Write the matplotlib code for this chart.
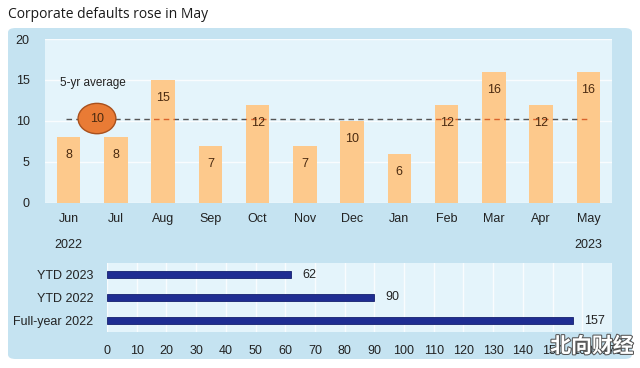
import matplotlib
matplotlib.use("Agg")
import matplotlib.pyplot as plt
from matplotlib.patches import FancyBboxPatch, Ellipse
import matplotlib.patheffects as pe

months = ["Jun", "Jul", "Aug", "Sep", "Oct", "Nov", "Dec", "Jan", "Feb", "Mar", "Apr", "May"]
defaults = [8, 8, 15, 7, 12, 7, 10, 6, 12, 16, 12, 16]
avg_5yr = 10.3
avg_label = "10"
years = {0: "2022", 11: "2023"}

bar_cats = ["YTD 2023", "YTD 2022", "Full-year 2022"]
bar_vals = [62, 90, 157]
bottom_ticks = list(range(0, 180, 10))

plt.rcParams['font.family'] = ['Liberation Sans', 'DejaVu Sans']

W, H = 640, 368
fig = plt.figure(figsize=(W / 100, H / 100), dpi=100)
fig.patch.set_facecolor("white")

def frac(x0, y0, x1, y1):
    return [x0 / W, 1 - y1 / H, (x1 - x0) / W, (y1 - y0) / H]

# Outer panel
panel = FancyBboxPatch((8 / W, 1 - 359 / H), 624 / W, 331 / H,
                       boxstyle="round,pad=0,rounding_size=0.012",
                       transform=fig.transFigure, facecolor="#c5e3f1",
                       edgecolor="none", zorder=-5)
fig.patches.append(panel)

fig.text(8 / W, 1 - 15 / H, "Corporate defaults rose in May", fontsize=10,
         family=["Open Sans", "DejaVu Sans"], color="#1a1a1a", va="center", ha="left")

# Top chart
ax = fig.add_axes(frac(45, 39, 612, 203))
ax.set_facecolor("#e4f4fb")
x = list(range(len(months)))
bars = ax.bar(x, defaults, width=0.5, color="#fdc98c", zorder=2)
ax.set_xlim(-0.5, 11.5)
ax.set_ylim(0, 20)
ax.set_yticks([0, 5, 10, 15, 20])
for s in ax.spines.values():
    s.set_visible(False)
ax.tick_params(axis="both", length=0, labelsize=9, colors="#222222")
ax.tick_params(axis="y", pad=11)
ax.tick_params(axis="x", pad=7)
ax.set_xticks(x)
ax.set_xticklabels(months)
ax.yaxis.grid(True, color="white", linewidth=1.0, alpha=0.8, zorder=0)
ax.set_axisbelow(True)

for i, yr in years.items():
    ax.annotate(yr, xy=(i, 0), xycoords="data", xytext=(0, -30), textcoords="offset points",
                ha="center", va="center", fontsize=9, color="#222222", annotation_clip=False)

for xi, v in zip(x, defaults):
    ax.annotate(str(v), xy=(xi, v), xytext=(0, -13), textcoords="offset points",
                ha="center", va="center", fontsize=9, color="#4a2a10", zorder=5)

dash = (0, (4, 3))
ax.plot([-0.05, 11], [avg_5yr, avg_5yr], color="#555555", linestyle=dash, linewidth=1.0, zorder=1)
for b in bars:
    ln, = ax.plot([-0.05, 11], [avg_5yr, avg_5yr], color="#d9622b", linestyle=dash,
                  linewidth=1.0, zorder=3)
    ln.set_clip_path(b)

ell = Ellipse((0.6, avg_5yr), width=0.8, height=3.7, facecolor="#e97b35",
              edgecolor="#a9501c", linewidth=1.0, zorder=4)
ax.add_patch(ell)
ax.text(0.6, avg_5yr, avg_label, ha="center", va="center", fontsize=9, color="#4a2a10", zorder=5)
ax.text(-0.19, 14.6, "5-yr average", ha="left", va="center", fontsize=8.5, color="#222222", zorder=5)

# Bottom chart
ax2 = fig.add_axes(frac(107, 263, 612, 332))
ax2.set_facecolor("#e4f4fb")
yy = list(range(len(bar_cats)))
ax2.barh(yy, bar_vals, height=0.28, color="#1f2d92", edgecolor="#15206e", linewidth=0.6, zorder=2)
ax2.set_xlim(0, 170)
ax2.set_ylim(2.5, -0.5)
ax2.set_yticks(yy)
ax2.set_yticklabels(bar_cats)
ax2.set_xticks(bottom_ticks)
for s in ax2.spines.values():
    s.set_visible(False)
ax2.tick_params(axis="both", length=0, labelsize=9, colors="#222222")
ax2.tick_params(axis="y", pad=10)
ax2.tick_params(axis="x", pad=9)
ax2.xaxis.grid(True, color="white", linewidth=1.0, alpha=0.8, zorder=0)
ax2.set_axisbelow(True)
for yi, v in zip(yy, bar_vals):
    ax2.annotate(str(v), xy=(v, yi), xytext=(8, 0), textcoords="offset points",
                 ha="left", va="center", fontsize=9, color="#222222")

# Watermark
fig.text(592 / W, 1 - 346 / H, "北向财经", fontsize=15, ha="center", va="center",
         family=["Noto Sans CJK SC", "DejaVu Sans"], color="white", weight="bold",
         path_effects=[pe.withStroke(linewidth=1.5, foreground="#555555")], zorder=10)

fig.savefig("out.png", dpi=100)
